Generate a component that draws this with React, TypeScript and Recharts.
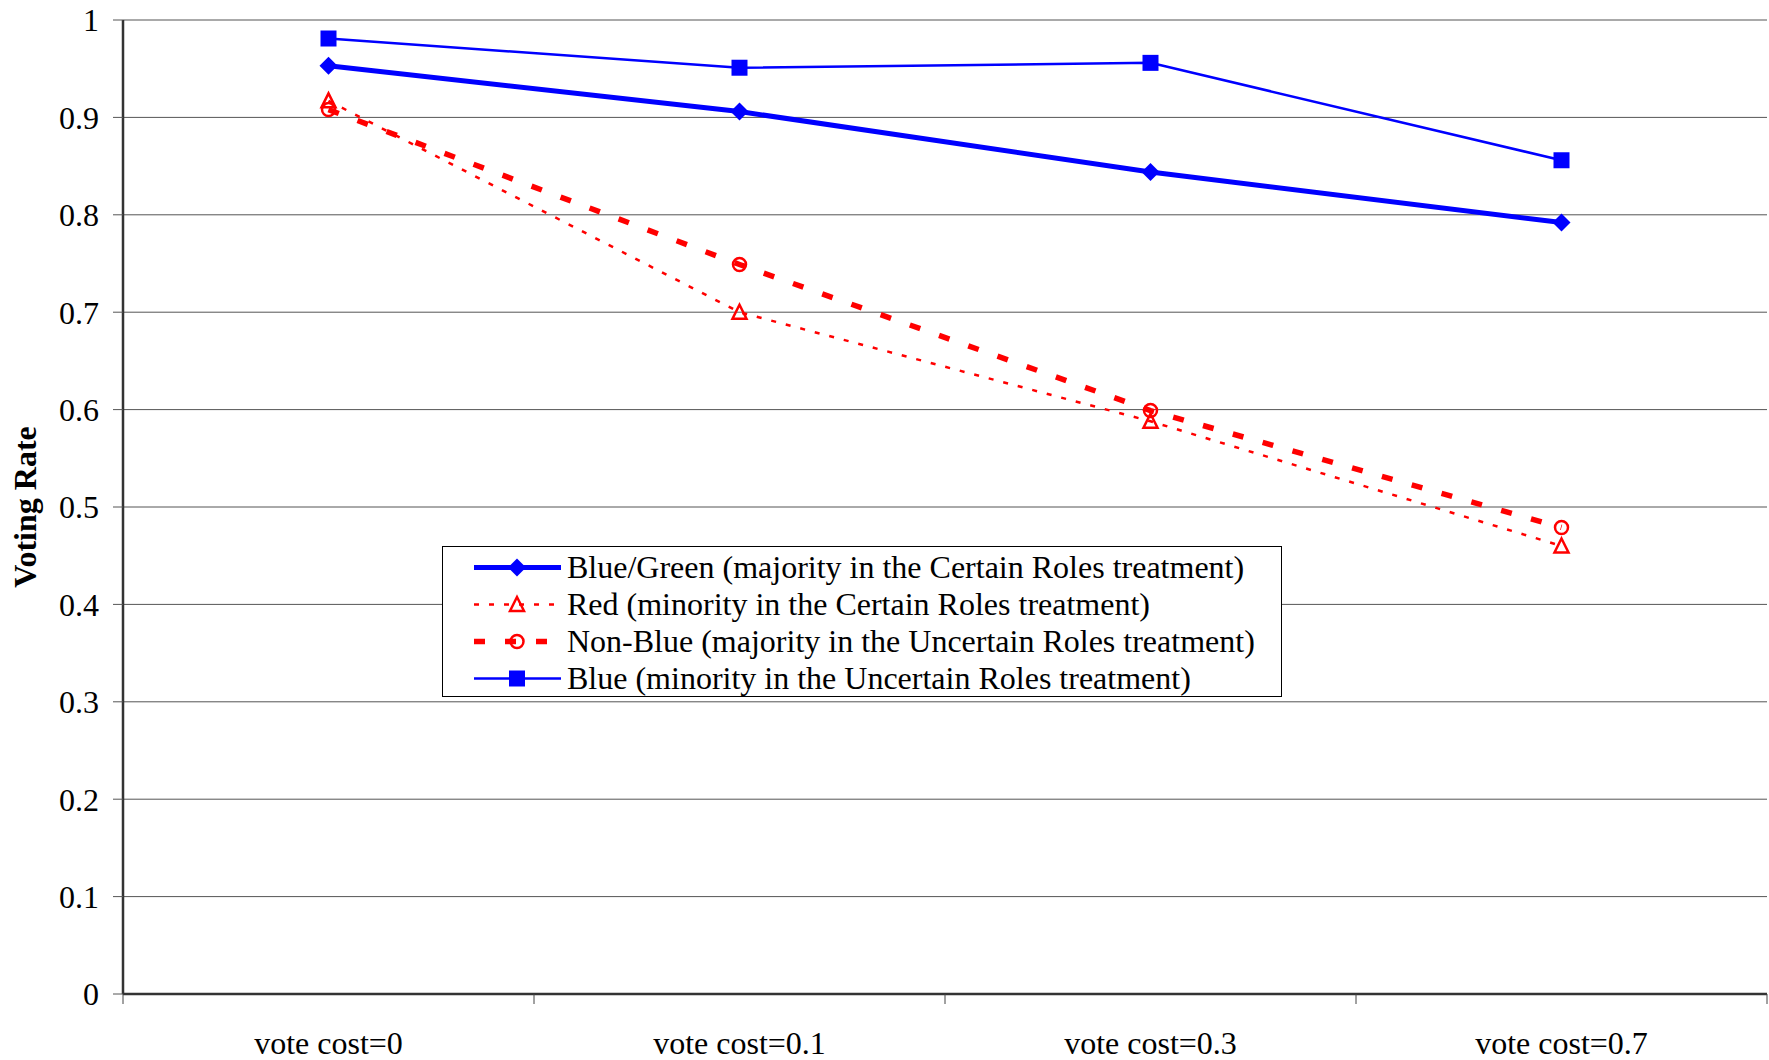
import { CartesianGrid, Legend, Line, LineChart, XAxis, YAxis } from 'recharts';

// values
const categories = ['vote cost=0', 'vote cost=0.1', 'vote cost=0.3', 'vote cost=0.7'];
const blueGreen = [0.953, 0.906, 0.844, 0.792];
const red = [0.917, 0.7, 0.588, 0.46];
const nonBlue = [0.908, 0.749, 0.599, 0.479];
const blue = [0.981, 0.951, 0.956, 0.856];
const yTicks = [0, 0.1, 0.2, 0.3, 0.4, 0.5, 0.6, 0.7, 0.8, 0.9, 1];

const data = categories.map((cost, i) => ({
  cost,
  blueGreen: blueGreen[i],
  red: red[i],
  nonBlue: nonBlue[i],
  blue: blue[i],
}));

const FONT = '"Liberation Serif", "Times New Roman", serif';
const BLUE = '#0000ff';
const RED = '#ff0000';

const Diamond = (p: any) => {
  const { cx, cy } = p;
  if (cx == null || cy == null) return null;
  const r = 9;
  return <polygon key={`dia-${p.index}`} points={`${cx},${cy - r} ${cx + r},${cy} ${cx},${cy + r} ${cx - r},${cy}`} fill={BLUE} />;
};

const Square = (p: any) => {
  const { cx, cy } = p;
  if (cx == null || cy == null) return null;
  return <rect key={`sq-${p.index}`} x={cx - 8} y={cy - 8} width={16} height={16} fill={BLUE} />;
};

const Triangle = (p: any) => {
  const { cx, cy } = p;
  if (cx == null || cy == null) return null;
  return (
    <polygon
      key={`tri-${p.index}`}
      points={`${cx},${cy - 7.5} ${cx + 7},${cy + 6.5} ${cx - 7},${cy + 6.5}`}
      fill="none"
      stroke={RED}
      strokeWidth={2.5}
    />
  );
};

const Ring = (p: any) => {
  const { cx, cy } = p;
  if (cx == null || cy == null) return null;
  return <circle key={`ring-${p.index}`} cx={cx} cy={cy} r={6.5} fill="none" stroke={RED} strokeWidth={2.5} />;
};

const series = [
  { key: 'blueGreen', name: 'Blue/Green (majority in the Certain Roles treatment)', color: BLUE, width: 5, dash: undefined, dot: Diamond },
  { key: 'red', name: 'Red (minority in the Certain Roles treatment)', color: RED, width: 2.5, dash: '5 10', dot: Triangle },
  { key: 'nonBlue', name: 'Non-Blue (majority in the Uncertain Roles treatment)', color: RED, width: 5.5, dash: '11 20', dot: Ring },
  { key: 'blue', name: 'Blue (minority in the Uncertain Roles treatment)', color: BLUE, width: 2.5, dash: undefined, dot: Square },
];

function CostTick(props: any) {
  const { x, y, payload, index, visibleTicksCount } = props;
  const half = payload && payload.offset ? payload.offset : 205.5;
  const top = y - 10;
  return (
    <g>
      <line x1={x - half} x2={x - half} y1={top} y2={y} stroke="#444" strokeWidth={1} />
      {index === visibleTicksCount - 1 && <line x1={x + half} x2={x + half} y1={top} y2={y} stroke="#444" strokeWidth={1} />}
      <text x={x} y={y + 39} textAnchor="middle" dominantBaseline="central" fontFamily={FONT} fontSize={32} fill="#000">
        {payload.value}
      </text>
    </g>
  );
}

function LegendBox() {
  return (
    <div
      style={{
        border: '1px solid #000',
        background: '#fff',
        boxSizing: 'border-box',
        width: 840,
        height: 151,
        paddingTop: 2,
        fontFamily: FONT,
        fontSize: 32,
        color: '#000',
      }}
    >
      {series.map((s) => {
        const Marker = s.dot;
        return (
          <div key={s.key} style={{ display: 'flex', alignItems: 'center', height: 37, whiteSpace: 'nowrap' }}>
            <svg width={124} height={37} style={{ flex: 'none' }}>
              <line x1={31} x2={118} y1={18.5} y2={18.5} stroke={s.color} strokeWidth={s.width} strokeDasharray={s.dash} />
              <Marker cx={74} cy={18.5} index={0} />
            </svg>
            <span style={{ lineHeight: '37px' }}>{s.name}</span>
          </div>
        );
      })}
    </div>
  );
}

export default function App() {
  return (
    <div style={{ position: 'absolute', left: 0, top: 0, background: '#fff' }}>
      <LineChart width={1769} height={1060} data={data} margin={{ top: 20, right: 2, bottom: 0, left: 0 }}>
        <CartesianGrid vertical={false} stroke="#555" strokeWidth={1} />
        <XAxis
          dataKey="cost"
          scale="band"
          height={66}
          tickSize={10}
          tickMargin={0}
          tickLine={false}
          interval={0}
          axisLine={{ stroke: '#333', strokeWidth: 2.5 }}
          tick={<CostTick />}
        />
        <XAxis
          xAxisId="top"
          dataKey="cost"
          scale="band"
          orientation="top"
          height={0}
          tick={false}
          tickLine={false}
          axisLine={{ stroke: '#888', strokeWidth: 3 }}
        />
        <YAxis
          width={123}
          domain={[0, 1]}
          ticks={yTicks}
          interval={0}
          tickSize={10}
          tickMargin={14}
          tickLine={{ stroke: '#555' }}
          axisLine={{ stroke: '#333', strokeWidth: 2.5 }}
          tickFormatter={(v: number) => (v === 0 || v === 1 ? String(v) : v.toFixed(1))}
          tick={{ fontFamily: FONT, fontSize: 32, fill: '#000' }}
          label={{
            content: ({ viewBox }: any) => {
              const cx = viewBox.x + 25;
              const cy = viewBox.y + viewBox.height / 2;
              return (
                <text
                  x={cx}
                  y={cy}
                  transform={`rotate(-90 ${cx} ${cy})`}
                  textAnchor="middle"
                  dominantBaseline="central"
                  fontFamily={FONT}
                  fontWeight="bold"
                  fontSize={32}
                  fill="#000"
                >
                  Voting Rate
                </text>
              );
            },
          }}
        />
        <YAxis yAxisId="right" orientation="right" width={0} domain={[0, 1]} tick={false} tickLine={false} axisLine={{ stroke: '#888', strokeWidth: 3 }} />
        {series.map((s) => (
          <Line
            key={s.key}
            type="linear"
            dataKey={s.key}
            name={s.name}
            stroke={s.color}
            strokeWidth={s.width}
            strokeDasharray={s.dash}
            dot={s.dot}
            activeDot={false}
            isAnimationActive={false}
          />
        ))}
        <Legend
          layout="vertical"
          align="center"
          verticalAlign="middle"
          content={<LegendBox />}
          wrapperStyle={{ left: 442, top: 546, width: 840, height: 151 }}
        />
      </LineChart>
    </div>
  );
}
